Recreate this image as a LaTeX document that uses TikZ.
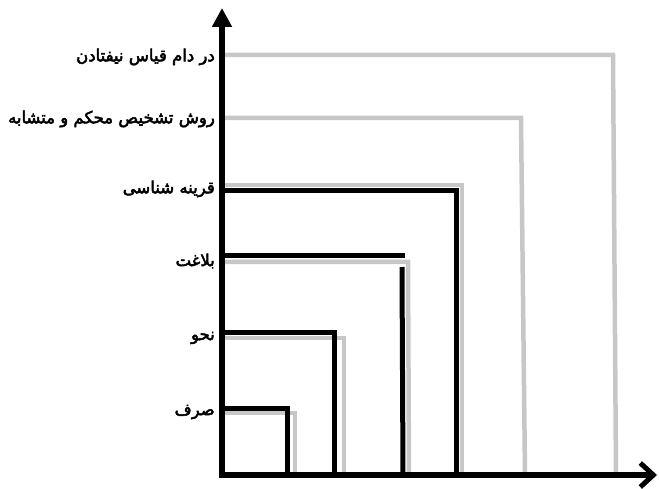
\documentclass[tikz,border=0pt]{standalone}
\usepackage{fontspec}
\usetikzlibrary{arrows.meta}
\TeXXeTstate=1
\newfontfamily\arabicfont[Script=Arabic,FakeBold=3]{DejaVu Sans}
\begin{document}
\begin{tikzpicture}[x=1pt,y=1pt,
  grayline/.style={draw=black!22, line width=4.5pt, line join=miter},
  blackline/.style={draw=black, line width=5pt, line join=miter},
  axisline/.style={draw=black, line width=6pt},
  lbl/.style={anchor=east, inner sep=0pt, font=\arabicfont\fontsize{16.5}{18}\selectfont}]
\useasboundingbox (0,0) rectangle (659,488);
\coordinate (O) at (222,13);
\coordinate (ytip) at (222,480);
\coordinate (xtip) at (657,13);
% gray frames
\draw[grayline] (224,433) -- (613,433) -- (616,13);
\draw[grayline] (224,370) -- (521,370) -- (525,13);
\draw[grayline] (224,303) -- (462,303) -- (462,13);
\draw[grayline] (224,226) -- (408,226) -- (409,13);
\draw[grayline] (224,150) -- (344,150) -- (344,13);
\draw[grayline] (224,75) -- (295,75) -- (295,13);
% black frames
\draw[blackline] (224,297) -- (456,297) -- (456,13);
\draw[blackline] (224,232) -- (405,232);
\draw[blackline] (402,221) -- (403,13);
\draw[blackline] (224,156) -- (334,156) -- (334,13);
\draw[blackline] (224,80) -- (287,80) -- (287,13);
% axes
\draw[axisline, -{Triangle[width=19pt,length=19pt]}] (O) -- (ytip);
\draw[axisline, -{Straight Barb[width=24pt,length=13pt,line width=5pt]}] ([xshift=-3pt]O) -- (xtip);
% labels
\node[lbl] (l1) at (215,431) {\beginR در دام قیاس نیفتادن\endR};
\node[lbl] (l2) at (215,369) {\beginR روش تشخیص محکم و متشابه\endR};
\node[lbl] (l3) at (215,299) {\beginR قرینه شناسی\endR};
\node[lbl] (l4) at (215,227) {\beginR بلاغت\endR};
\node[lbl] (l5) at (215,150) {\beginR نحو\endR};
\node[lbl] (l6) at (215,76) {\beginR صرف\endR};
\end{tikzpicture}
\end{document}
